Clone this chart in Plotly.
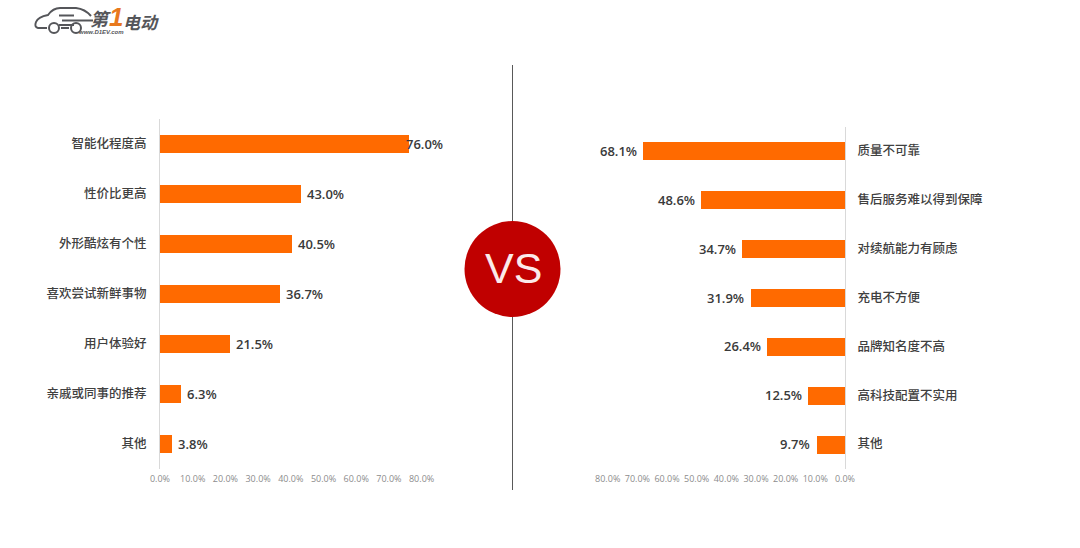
import plotly.graph_objects as go

left_cats = ['智能化程度高', '性价比更高', '外形酷炫有个性', '喜欢尝试新鲜事物', '用户体验好', '亲戚或同事的推荐', '其他']
left_vals = [76.0, 43.0, 40.5, 36.7, 21.5, 6.3, 3.8]
right_cats = ['质量不可靠', '售后服务难以得到保障', '对续航能力有顾虑', '充电不方便', '品牌知名度不高', '高科技配置不实用', '其他']
right_vals = [68.1, 48.6, 34.7, 31.9, 26.4, 12.5, 9.7]
tick_vals = [0, 10, 20, 30, 40, 50, 60, 70, 80]
tick_text = ['0.0%', '10.0%', '20.0%', '30.0%', '40.0%', '50.0%', '60.0%', '70.0%', '80.0%']

W, H = 1080, 548
ORANGE = '#ff6a00'
LOGO = '#55565a'
CJK = 'Noto Sans CJK SC'
LABEL = 'Open Sans, Noto Sans CJK SC'


def px(x):
    return x / W


def py(y):
    return 1 - y / H


def paper_path(points):
    # points in screenshot pixels
    out = ''
    for cmd, coords in points:
        out += cmd + ' ' + ' '.join(f'{px(c) if i % 2 == 0 else py(c):.5f}' for i, c in enumerate(coords)) + ' '
    return out.strip()


def logo_text(x, y, text, family, size, color=LOGO):
    return dict(x=px(x), y=py(y), xref='paper', yref='paper', text=f'<b><i>{text}</i></b>', showarrow=False,
                xanchor='center', yanchor='middle', font=dict(family=family, size=size, color=color))


fig = go.Figure()
fig.add_trace(go.Bar(x=left_vals, y=left_cats, orientation='h', xaxis='x', yaxis='y',
                     marker=dict(color=ORANGE, line=dict(width=0)), width=0.37, showlegend=False))
fig.add_trace(go.Bar(x=right_vals, y=right_cats, orientation='h', xaxis='x2', yaxis='y2',
                     marker=dict(color=ORANGE, line=dict(width=0)), width=0.37, showlegend=False))

annotations = []
for cat, val in zip(left_cats, left_vals):
    annotations.append(dict(x=val, y=cat, xref='x', yref='y', text=f'{val:.1f}%', showarrow=False,
                            xanchor='left', xshift=-5 if val == max(left_vals) else 4,
                            font=dict(family=LABEL, size=13, color='#3a3a3a', weight=600)))
for cat, val in zip(right_cats, right_vals):
    annotations.append(dict(x=val, y=cat, xref='x2', yref='y2', text=f'{val:.1f}%', showarrow=False,
                            xanchor='right', xshift=-4,
                            font=dict(family=LABEL, size=13, color='#3a3a3a', weight=600)))

# VS badge and logo text
annotations.append(dict(x=px(513), y=py(268), xref='paper', yref='paper', text='VS', showarrow=False,
                        xanchor='center', font=dict(family='Liberation Sans', size=43, color='#fbeaea')))
annotations.append(logo_text(100, 18, '第', CJK, 18))
annotations.append(logo_text(116, 17, '1', 'Liberation Sans', 26, '#e8791e'))
annotations.append(logo_text(141, 21, '电动', CJK, 17))
annotations.append(logo_text(101, 32.5, 'www.D1EV.com', 'Liberation Sans', 6))

car = [('M', [47, 28]), ('L', [38, 28]), ('Q', [34, 27, 36, 22]), ('Q', [38, 17, 48, 15]),
       ('Q', [53, 8, 60, 8]), ('L', [76, 8]), ('Q', [85, 9, 91, 16])]
car2 = [('M', [61, 28]), ('L', [69, 28])]
plug1 = [('M', [59, 15.5]), ('L', [74, 15.5])]
plug2 = [('M', [62, 20.5]), ('L', [93, 20.5])]
plug3 = [('M', [59, 25]), ('L', [74, 25])]

shapes = [
    dict(type='line', xref='paper', yref='paper', x0=px(512.5), x1=px(512.5), y0=py(65), y1=py(490),
         line=dict(color='#595959', width=1)),
    dict(type='circle', xref='paper', yref='paper', x0=px(464.5), x1=px(560.5), y0=py(221), y1=py(317),
         fillcolor='#c00000', line=dict(color='#c00000', width=0)),
]
for seg in [car, car2, plug1, plug2, plug3]:
    shapes.append(dict(type='path', xref='paper', yref='paper', path=paper_path(seg),
                       line=dict(color=LOGO, width=2)))
for cx in [54, 76]:
    shapes.append(dict(type='circle', xref='paper', yref='paper', x0=px(cx - 5), x1=px(cx + 5),
                       y0=py(33), y1=py(23), line=dict(color=LOGO, width=2)))

axis_line = '#d9d9d9'
tick_font = dict(family='Open Sans', size=9, color='#8c8c8c')
cat_font = dict(family=CJK, size=12.5, color='#404040', weight=500)

fig.update_layout(
    width=W, height=H, margin=dict(l=0, r=0, t=0, b=0, autoexpand=False), autosize=False,
    paper_bgcolor='white', plot_bgcolor='white', shapes=shapes, annotations=annotations,
    bargap=0,
    xaxis=dict(domain=[px(160), px(421.6)], range=[0, 80], anchor='y', tickvals=tick_vals, ticktext=tick_text,
               showgrid=False, showline=False, zeroline=False, ticks='', tickfont=tick_font, ticklabelstandoff=3),
    yaxis=dict(domain=[py(469), py(119)], anchor='x', autorange='reversed', showgrid=False, showline=True,
               linecolor=axis_line, linewidth=1, zeroline=False, ticks='', tickfont=cat_font, ticklabelstandoff=10),
    xaxis2=dict(domain=[px(607.7), px(845)], range=[80, 0], anchor='y2', tickvals=tick_vals, ticktext=tick_text,
                showgrid=False, showline=False, zeroline=False, ticks='', tickfont=tick_font, ticklabelstandoff=3),
    yaxis2=dict(domain=[py(468.5), py(126.5)], anchor='x2', side='right', autorange='reversed', showgrid=False,
                showline=True, linecolor=axis_line, linewidth=1, zeroline=False, ticks='', tickfont=cat_font,
                ticklabelstandoff=9),
)

fig.write_html('out.html', config=dict(displayModeBar=False), post_script="document.body.style.margin='0';")
